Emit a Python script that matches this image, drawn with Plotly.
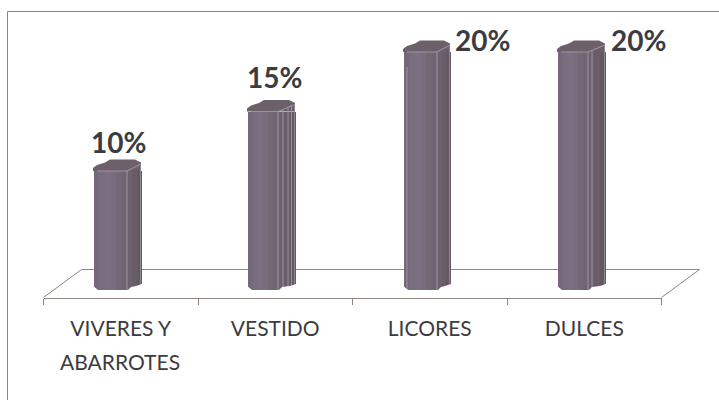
import plotly.graph_objects as go

# ---- data ----
categories = ["VIVERES Y<br>ABARROTES", "VESTIDO", "LICORES", "DULCES"]
percentages = [10, 15, 20, 20]
value_labels = ["10%", "15%", "20%", "20%"]

# ---- layout constants (pixels of the 719x400 page) ----
W, H = 719, 400
AX_L, AX_R, AX_BOT, AX_TOP = 43.5, 661.5, 297.5, 20.0
ZERO_PX, PX_PER_UNIT = 290.0, 11.9
LINE = "#8f8580"
TEXT = "#3b3b40"
FONT = "Lato"

slot = (AX_R - AX_L) / 4
def dx(px):
    return (px - AX_L) / slot - 0.5
def dw(px):
    return px / slot
def dy(px):
    return (ZERO_PX - px) / PX_PER_UNIT

# Column geometry, per category, as pixel edges (style only, heights come from the data)
lefts = [93, 247, 403, 557]
fronts_r = [127, 278, 437, 588]
rights = [141, 295, 450, 605]
extra_edges = [[], [283, 288, 291.5], [407], [592]]

FRONT_COLS = ["#756979", "#7a6d80", "#7c6f82", "#796c7e", "#746876", "#706472"]
SIDE_COLS = ["#6d616e", "#695d69", "#645963"]

fig = go.Figure()

def add_strip(i, x0, x1, color):
    fig.add_trace(go.Bar(
        x=[i], y=[percentages[i]], offset=dx(x0) - i, width=dw(x1 - x0),
        marker=dict(color=color, line=dict(width=0)),
        hoverinfo="skip", showlegend=False))

def polygon(xs, ys, color):
    fig.add_trace(go.Scatter(
        x=[dx(a) for a in xs], y=ys, mode="lines", fill="toself",
        fillcolor=color, line=dict(width=0, color=color),
        hoverinfo="skip", showlegend=False))

def stroke(xs, ys, color="#9c92a0", width=1):
    fig.add_trace(go.Scatter(
        x=[dx(a) for a in xs], y=ys, mode="lines",
        line=dict(width=width, color=color),
        hoverinfo="skip", showlegend=False))

for i, v in enumerate(percentages):
    L, F, R = lefts[i], fronts_r[i], rights[i]
    # front face strips
    n = len(FRONT_COLS)
    for k, c in enumerate(FRONT_COLS):
        add_strip(i, L + (F - L) * k / n, L + (F - L) * (k + 1) / n + 0.4, c)
    # side face strips
    m = len(SIDE_COLS)
    for k, c in enumerate(SIDE_COLS):
        add_strip(i, F + (R - F) * k / m, F + (R - F) * (k + 1) / m + 0.4, c)
    # side top, rising toward the back
    polygon([F, R, R, F], [v, v, v + 7 / PX_PER_UNIT, v], "#6a5e6a")
    # cap
    cap_x = [L, L, L + 4, L + 12, L + 17, R - 6, R, R, F, L + 4, L]
    cap_u = [0, 3, 6, 8.5, 11.5, 11.5, 8.5, 7, 0, 0, 0]
    polygon(cap_x, [v + u / PX_PER_UNIT for u in cap_u], "#6c606a")
    # light facet edges
    stroke([L + 4, F, R], [v, v, v + 7 / PX_PER_UNIT])
    stroke([F, F], [0, v])
    stroke([R - 0.5, R - 0.5], [0, v + 7 / PX_PER_UNIT], "#8f8593")
    for e in extra_edges[i]:
        stroke([e, e], [0, v + (e - F) * 0.5 / PX_PER_UNIT])
    # bottom chamfers (white over bar corners)
    polygon([L - 1, L + 5, L - 1], [5 / PX_PER_UNIT, 0, 0], "#ffffff")
    polygon([F + 1, F + 4, R - 5, R + 1, R + 1],
            [0, 3 / PX_PER_UNIT, 4 / PX_PER_UNIT, 6 / PX_PER_UNIT, 0], "#ffffff")

# Paper-coordinate helpers: margins are 0, so paper maps straight to the page
px = lambda a: a / W
py = lambda a: 1 - a / H

shapes = []
def seg(x0, y0, x1, y1):
    shapes.append(dict(type="line", xref="paper", yref="paper", layer="below",
                       x0=px(x0), y0=py(y0), x1=px(x1), y1=py(y1),
                       line=dict(color=LINE, width=1)))
seg(7.5, 11.5, 719, 11.5)          # chart frame
seg(7.5, 11.5, 7.5, 400)
seg(81.5, 269.5, 699.5, 269.5)     # floor back edge
seg(43.5, 297.5, 81.5, 269.5)      # floor left edge
seg(661.5, 297.5, 699.5, 269.5)    # floor right edge

# Value labels: placement offsets are styling only
label_shift = [(1.5, 10), (3.5, 16), (56, -6.5), (57, -6.5)]
annotations = [
    dict(x=dx(lefts[i]) + dw(rights[i] - lefts[i]) / 2, y=percentages[i], xref="x", yref="y",
         text=value_labels[i], showarrow=False, yanchor="bottom",
         xshift=label_shift[i][0], yshift=label_shift[i][1],
         font=dict(family=FONT, size=28, color=TEXT, weight="bold"))
    for i in range(4)
]

# First line of each category is the axis tick label; a second line gets the
# reference's wider line spacing as its own text.
first_lines = [c.split("<br>")[0] for c in categories]
for i, c in enumerate(categories):
    for line in c.split("<br>")[1:]:
        annotations.append(dict(
            x=i, y=py(361), xref="x", yref="paper", yanchor="middle", showarrow=False,
            text=line, xshift=-1,
            font=dict(family=FONT, size=21, color=TEXT)))

fig.update_layout(
    width=W, height=H, autosize=False,
    margin=dict(l=0, r=0, t=0, b=0, pad=0),
    paper_bgcolor="#ffffff", plot_bgcolor="#ffffff",
    barmode="overlay", bargap=0, showlegend=False,
    shapes=shapes, annotations=annotations,
    font=dict(family=FONT, color=TEXT),
    xaxis=dict(
        domain=[AX_L / W, AX_R / W], range=[-0.5, 3.5],
        tickmode="array", tickvals=[0, 1, 2, 3], ticktext=first_lines,
        ticks="", ticklabelstandoff=12, showgrid=False, zeroline=False,
        showline=True, linecolor=LINE, linewidth=1,
        tickfont=dict(family=FONT, size=21, color=TEXT),
        minor=dict(tickmode="array", tickvals=[-0.5, 0.5, 1.5, 2.5, 3.5],
                   ticks="outside", ticklen=6, tickcolor=LINE, tickwidth=1,
                   showgrid=False),
    ),
    yaxis=dict(
        domain=[1 - AX_BOT / H, 1 - AX_TOP / H], range=[dy(AX_BOT), dy(AX_TOP)],
        visible=False, showgrid=False, zeroline=False,
    ),
)

fig.write_html("out.html", config={"displayModeBar": False},
               post_script="document.body.style.margin='0';")
